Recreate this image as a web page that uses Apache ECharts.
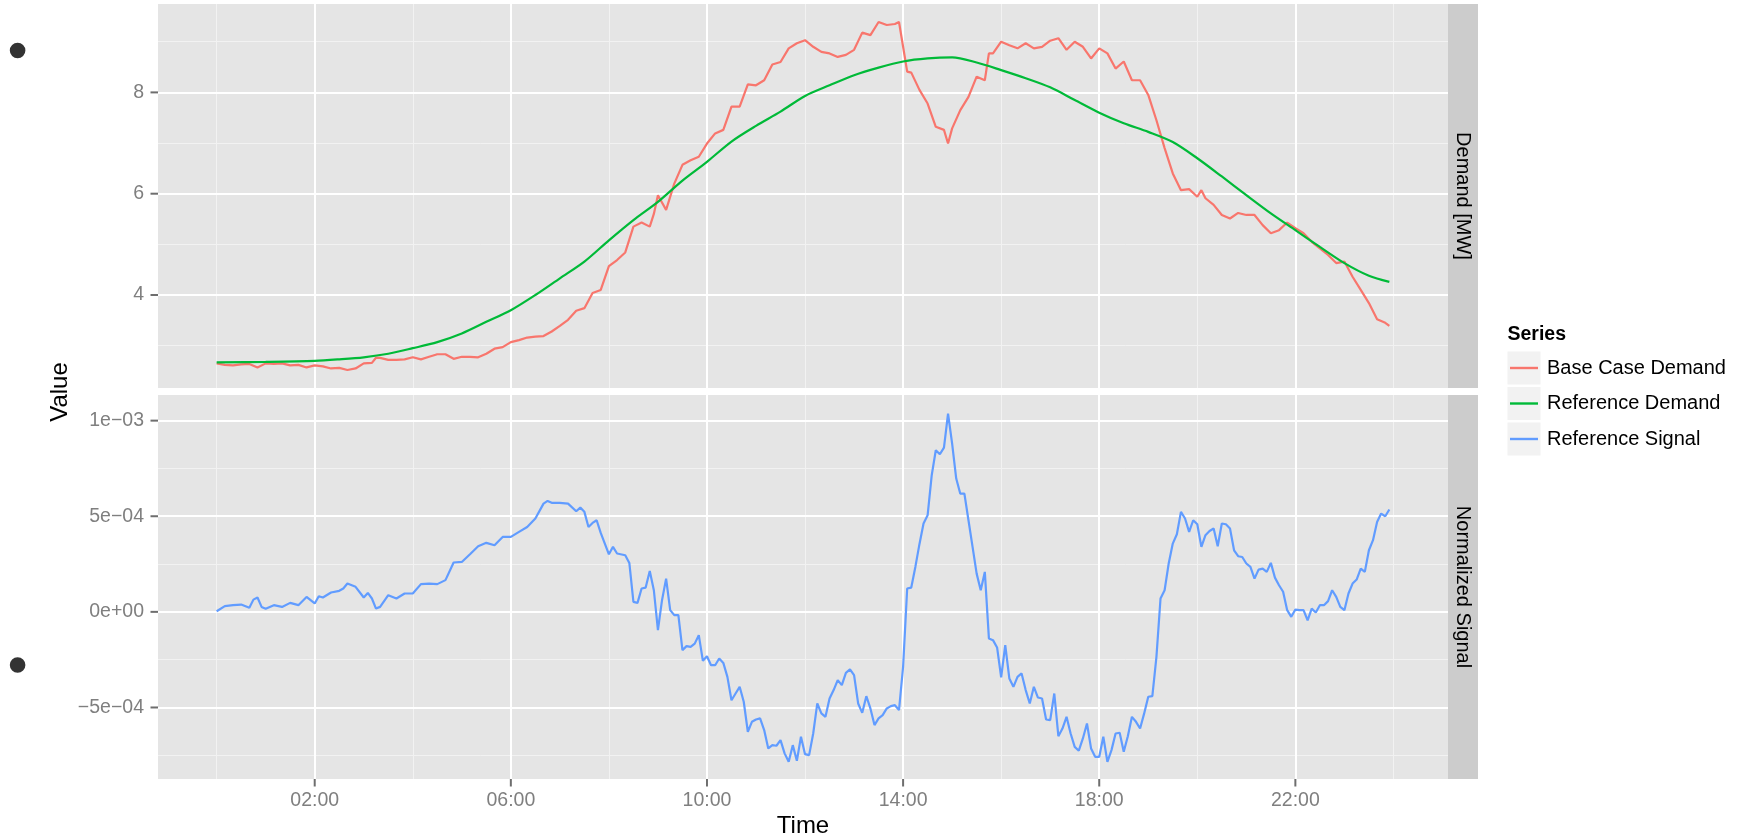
<!DOCTYPE html>
<html><head><meta charset="utf-8">
<script src="https://cdn.jsdelivr.net/npm/echarts@6/dist/echarts.min.js"></script>
<style>html,body{margin:0;padding:0;background:#fff}#chart{width:1748px;height:838px}</style>
</head><body><div id="chart"></div>
<script>
// ---------------- data ----------------
const seriesNames = ['Base Case Demand', 'Reference Demand', 'Reference Signal'];
const seriesColors = ['#F8766D', '#00BA38', '#619CFF'];
const panelLabels = ['Demand [MW]', 'Normalized Signal'];
const legendTitle = 'Series';
const xTitle = 'Time';
const yTitle = 'Value';

const timeTickValues = [2, 6, 10, 14, 18, 22];
const timeTickLabels = ['02:00', '06:00', '10:00', '14:00', '18:00', '22:00'];
const timeMinorValues = [0, 4, 8, 12, 16, 20, 24];
const demandTickValues = [4, 6, 8];
const demandTickLabels = ['4', '6', '8'];
const demandMinorValues = [3, 5, 7, 9];
const signalTickValues = [-5e-4, 0, 5e-4, 1e-3];
const signalTickLabels = ['\u22125e\u221204', '0e+00', '5e\u221204', '1e\u221203'];
const signalMinorValues = [-7.5e-4, -2.5e-4, 2.5e-4, 7.5e-4];

const baseDemandTimes = ['00:00','00:10','00:20','00:30','00:40','00:50','01:00','01:10','01:20','01:30','01:40','01:50',
'02:00','02:10','02:20','02:30','02:40','02:50','03:00','03:10','03:15','03:20','03:30','03:40','03:50',
'04:00','04:10','04:20','04:30','04:40','04:50','05:00','05:10','05:20','05:30','05:40','05:50',
'06:00','06:10','06:20','06:30','06:40','06:50','07:00','07:10','07:20','07:30','07:40','07:50',
'08:00','08:10','08:20','08:30','08:40','08:50','08:55','09:00','09:10','09:20','09:30','09:40','09:50',
'10:00','10:10','10:20','10:30','10:40','10:50','11:00','11:10','11:20','11:30','11:40','11:50',
'12:00','12:10','12:20','12:30','12:40','12:50','13:00','13:10','13:20','13:30','13:40','13:50','13:55',
'14:00','14:05','14:10','14:20','14:30','14:40','14:50','14:55','15:00','15:10','15:20','15:30','15:40','15:45','15:50',
'16:00','16:10','16:20','16:30','16:40','16:50','17:00','17:10','17:20','17:30','17:40','17:50',
'18:00','18:10','18:20','18:30','18:40','18:50','19:00','19:10','19:20','19:30','19:40','19:50',
'20:00','20:05','20:10','20:20','20:30','20:40','20:50','21:00','21:10','21:20','21:30','21:40','21:50',
'22:00','22:10','22:20','22:30','22:40','22:50','23:00','23:10','23:20','23:30','23:40','23:50','23:55'];
const baseDemand = [2.65,2.62,2.61,2.63,2.64,2.57,2.65,2.64,2.65,2.61,2.62,2.57,
2.61,2.59,2.55,2.56,2.52,2.55,2.65,2.66,2.76,2.76,2.72,2.72,2.73,
2.77,2.73,2.78,2.83,2.83,2.74,2.78,2.78,2.77,2.84,2.94,2.97,
3.07,3.11,3.16,3.18,3.19,3.28,3.39,3.51,3.69,3.74,4.04,4.10,
4.57,4.69,4.84,5.35,5.43,5.35,5.60,5.97,5.68,6.20,6.57,6.66,6.73,
6.99,7.19,7.26,7.72,7.72,8.16,8.14,8.24,8.55,8.60,8.87,8.97,
9.03,8.90,8.80,8.77,8.70,8.74,8.84,9.18,9.13,9.39,9.33,9.35,9.39,
8.90,8.41,8.39,8.05,7.78,7.32,7.26,6.99,7.29,7.65,7.91,8.31,8.24,8.77,8.77,
9.00,8.93,8.87,8.97,8.87,8.90,9.02,9.07,8.84,9.00,8.90,8.67,
8.87,8.77,8.47,8.61,8.24,8.24,7.95,7.45,6.90,6.40,6.07,6.09,
5.94,6.07,5.91,5.78,5.58,5.51,5.62,5.58,5.58,5.38,5.22,5.28,5.43,
5.32,5.22,5.05,4.92,4.79,4.63,4.66,4.36,4.10,3.84,3.52,3.45,3.39];

const refDemandTimes = ['00:00','01:00','02:00','02:30','03:00','03:30','04:00','04:30','05:00','05:30','06:00','06:30',
'07:00','07:30','08:00','08:30','09:00','09:30','10:00','10:30','11:00','11:30','12:00','12:30',
'13:00','13:30','14:00','14:30','15:00','15:30','16:00','16:30','17:00','17:30','18:00','18:30',
'19:00','19:30','20:00','20:30','21:00','21:30','22:00','22:30','23:00','23:30','23:55'];
const refDemand = [2.67,2.68,2.70,2.73,2.77,2.84,2.95,3.07,3.24,3.47,3.70,4.00,
4.33,4.66,5.08,5.48,5.84,6.26,6.63,7.03,7.34,7.62,7.93,8.14,
8.34,8.49,8.61,8.67,8.69,8.59,8.44,8.28,8.10,7.85,7.60,7.39,
7.22,7.02,6.70,6.34,5.97,5.61,5.28,4.95,4.63,4.38,4.26];

const signalTimes = ['00:00','00:10','00:20','00:30','00:40','00:45','00:50','00:55','01:00','01:10','01:20','01:30','01:40','01:50',
'02:00','02:05','02:10','02:20','02:30','02:35','02:40','02:50','03:00','03:05','03:10','03:15','03:20','03:30','03:40','03:50',
'04:00','04:10','04:20','04:30','04:40','04:50','05:00','05:10','05:20','05:30','05:40','05:50',
'06:00','06:10','06:20','06:30','06:40','06:45','06:50','07:00','07:10','07:20','07:25','07:30','07:35','07:40','07:45','07:50',
'08:00','08:05','08:10','08:20','08:25','08:30','08:35','08:40','08:45','08:50','08:55',
'09:00','09:05','09:10','09:15','09:20','09:25','09:30','09:35','09:40','09:45','09:50','09:55',
'10:00','10:05','10:10','10:15','10:20','10:25','10:30','10:35','10:40','10:45','10:50','10:55',
'11:00','11:05','11:10','11:15','11:20','11:25','11:30','11:35','11:40','11:45','11:50','11:55',
'12:00','12:05','12:10','12:15','12:20','12:25','12:30','12:35','12:40','12:45','12:50','12:55',
'13:00','13:05','13:10','13:15','13:20','13:25','13:30','13:35','13:40','13:45','13:50','13:55',
'14:00','14:05','14:10','14:15','14:20','14:25','14:30','14:35','14:40','14:45','14:50','14:55',
'15:00','15:05','15:10','15:15','15:20','15:25','15:30','15:35','15:40','15:45','15:50','15:55',
'16:00','16:05','16:10','16:15','16:20','16:25','16:30','16:35','16:40','16:45','16:50','16:55',
'17:00','17:05','17:10','17:15','17:20','17:25','17:30','17:35','17:40','17:45','17:50','17:55',
'18:00','18:05','18:10','18:15','18:20','18:25','18:30','18:35','18:40','18:45','18:50','18:55',
'19:00','19:05','19:10','19:15','19:20','19:25','19:30','19:35','19:40','19:45','19:50','19:55',
'20:00','20:05','20:10','20:15','20:20','20:25','20:30','20:35','20:40','20:45','20:50','20:55',
'21:00','21:05','21:10','21:15','21:20','21:25','21:30','21:35','21:40','21:45','21:50','21:55',
'22:00','22:05','22:10','22:15','22:20','22:25','22:30','22:35','22:40','22:45','22:50','22:55',
'23:00','23:05','23:10','23:15','23:20','23:25','23:30','23:35','23:40','23:45','23:50','23:55'];
const signal = [0.03e-4,0.30e-4,0.35e-4,0.38e-4,0.21e-4,0.64e-4,0.75e-4,0.26e-4,0.16e-4,0.35e-4,0.26e-4,0.47e-4,0.35e-4,0.78e-4,
0.44e-4,0.82e-4,0.75e-4,1.01e-4,1.10e-4,1.22e-4,1.48e-4,1.31e-4,0.75e-4,0.99e-4,0.70e-4,0.17e-4,0.26e-4,0.87e-4,0.70e-4,0.96e-4,
0.96e-4,1.45e-4,1.48e-4,1.45e-4,1.66e-4,2.58e-4,2.61e-4,3.01e-4,3.43e-4,3.61e-4,3.48e-4,3.92e-4,
3.92e-4,4.18e-4,4.44e-4,4.88e-4,5.66e-4,5.80e-4,5.70e-4,5.70e-4,5.66e-4,5.26e-4,5.45e-4,5.23e-4,4.44e-4,4.65e-4,4.79e-4,4.13e-4,
3.01e-4,3.40e-4,3.05e-4,2.96e-4,2.56e-4,0.52e-4,0.47e-4,1.22e-4,1.27e-4,2.14e-4,1.13e-4,
-0.96e-4,0.61e-4,1.74e-4,0.09e-4,-0.17e-4,-0.17e-4,-2.00e-4,-1.79e-4,-1.83e-4,-1.66e-4,-1.22e-4,-2.56e-4,
-2.32e-4,-2.79e-4,-2.79e-4,-2.44e-4,-2.67e-4,-3.40e-4,-4.62e-4,-4.27e-4,-3.92e-4,-4.70e-4,-6.27e-4,-5.75e-4,
-5.63e-4,-5.57e-4,-6.18e-4,-7.14e-4,-6.97e-4,-7.00e-4,-6.71e-4,-7.40e-4,-7.84e-4,-6.97e-4,-7.79e-4,-6.53e-4,
-7.44e-4,-7.49e-4,-6.36e-4,-4.79e-4,-5.31e-4,-5.49e-4,-4.53e-4,-4.09e-4,-3.57e-4,-3.83e-4,-3.19e-4,-3.01e-4,
-3.31e-4,-4.79e-4,-5.28e-4,-4.41e-4,-5.05e-4,-5.92e-4,-5.57e-4,-5.40e-4,-5.05e-4,-4.93e-4,-4.88e-4,-5.14e-4,
-2.87e-4,1.22e-4,1.27e-4,2.35e-4,3.54e-4,4.62e-4,5.05e-4,7.14e-4,8.45e-4,8.24e-4,8.59e-4,10.37e-4,
8.80e-4,6.97e-4,6.18e-4,6.18e-4,4.79e-4,3.40e-4,2.00e-4,1.13e-4,2.09e-4,-1.39e-4,-1.48e-4,-1.86e-4,
-3.43e-4,-1.74e-4,-3.48e-4,-3.92e-4,-3.40e-4,-3.22e-4,-4.09e-4,-4.79e-4,-3.92e-4,-4.48e-4,-4.53e-4,-5.63e-4,
-5.66e-4,-4.27e-4,-6.50e-4,-6.10e-4,-5.49e-4,-6.36e-4,-7.06e-4,-7.26e-4,-6.62e-4,-5.84e-4,-7.14e-4,-7.58e-4,
-7.58e-4,-6.53e-4,-7.84e-4,-7.23e-4,-6.36e-4,-6.32e-4,-7.32e-4,-6.50e-4,-5.49e-4,-5.75e-4,-6.10e-4,-5.31e-4,
-4.44e-4,-4.41e-4,-2.35e-4,0.70e-4,1.13e-4,2.53e-4,3.57e-4,4.06e-4,5.23e-4,4.88e-4,4.18e-4,4.79e-4,
4.58e-4,3.40e-4,4.01e-4,4.23e-4,4.36e-4,3.43e-4,4.62e-4,4.58e-4,4.36e-4,3.22e-4,2.91e-4,2.87e-4,
2.53e-4,2.35e-4,1.74e-4,2.21e-4,2.26e-4,2.09e-4,2.56e-4,1.79e-4,1.39e-4,1.05e-4,0.09e-4,-0.26e-4,
0.12e-4,0.09e-4,0.09e-4,-0.44e-4,0.17e-4,-0.03e-4,0.35e-4,0.35e-4,0.56e-4,1.13e-4,0.78e-4,0.26e-4,
0.09e-4,0.96e-4,1.48e-4,1.69e-4,2.26e-4,2.09e-4,3.22e-4,3.75e-4,4.70e-4,5.14e-4,5.00e-4,5.35e-4];

// ---------------- helpers ----------------
function toHours(s) { const p = s.split(':'); return Number(p[0]) + Number(p[1]) / 60; }
function pairs(times, vals) { return times.map((t, i) => [toHours(t), vals[i]]); }
function labelFor(values, labels) {
  return function (v) {
    let best = 0, bd = Infinity;
    values.forEach((x, i) => { const d = Math.abs(x - v); if (d < bd) { bd = d; best = i; } });
    return labels[best];
  };
}

const FONT = "'Liberation Sans', Arial, Helvetica, sans-serif";
const AXIS_GREY = '#7F7F7F';
const TICK_GREY = '#6E6E6E';
const PANEL_BG = '#E5E5E5';
const MAJOR = '#FFFFFF';
const MINOR = '#F2F2F2';
const TICK_LEN = 7.5;

const X_MIN = -1.196, X_MAX = 25.113;
const DEMAND_MIN = 2.164, DEMAND_MAX = 9.745;
const SIGNAL_MIN = -8.74e-4, SIGNAL_MAX = 1.134e-3;

const G = [
  { left: 158, top: 4, width: 1290, height: 384 },
  { left: 158, top: 395, width: 1290, height: 384 }
];

function gridAxis(kind, gridIndex, min, max, values, isMajor, labels) {
  const ax = {
    type: 'value', gridIndex: gridIndex, min: min, max: max,
    position: kind === 'x' ? 'bottom' : 'left',
    axisLine: { show: false, onZero: false },
    axisTick: { show: false, customValues: values },
    axisLabel: { show: false, customValues: values },
    splitLine: { show: true, lineStyle: { color: isMajor ? MAJOR : MINOR, width: isMajor ? 2 : 1 } },
    z: isMajor ? 1 : 0
  };
  if (labels) {
    ax.axisLabel = { show: true, customValues: values, formatter: labelFor(values, labels),
      color: AXIS_GREY, fontSize: 19.5, fontFamily: FONT, margin: kind === 'x' ? 12 : 14 };
    ax.z = 3;
  }
  return ax;
}

const baseGraphics = [
  { type: 'rect', shape: { x: 1448, y: 4, width: 30, height: 384 }, style: { fill: '#CCCCCC' }, z: 1 },
  { type: 'rect', shape: { x: 1448, y: 395, width: 30, height: 384 }, style: { fill: '#CCCCCC' }, z: 1 },
  { type: 'text', x: 1463, y: 196, rotation: -Math.PI / 2, z: 2,
    style: { text: panelLabels[0], fontSize: 20, fontFamily: FONT, fill: '#000', align: 'center', verticalAlign: 'middle' } },
  { type: 'text', x: 1463, y: 587, rotation: -Math.PI / 2, z: 2,
    style: { text: panelLabels[1], fontSize: 20, fontFamily: FONT, fill: '#000', align: 'center', verticalAlign: 'middle' } },
  { type: 'text', x: 60.5, y: 392, rotation: Math.PI / 2, z: 2,
    style: { text: yTitle, fontSize: 24, fontFamily: FONT, fill: '#000', align: 'center', verticalAlign: 'middle' } },
  { type: 'text', x: 803, y: 826, z: 2,
    style: { text: xTitle, fontSize: 24, fontFamily: FONT, fill: '#000', align: 'center', verticalAlign: 'middle' } },
  { type: 'text', x: 1507.5, y: 334.5, z: 2,
    style: { text: legendTitle, fontSize: 19.5, fontWeight: 'bold', fontFamily: FONT, fill: '#000', align: 'left', verticalAlign: 'middle' } },
  { type: 'rect', shape: { x: 1507.5, y: 351.5, width: 33, height: 33 }, style: { fill: '#F2F2F2' }, z: 1 },
  { type: 'rect', shape: { x: 1507.5, y: 387, width: 33, height: 33 }, style: { fill: '#F2F2F2' }, z: 1 },
  { type: 'rect', shape: { x: 1507.5, y: 422.5, width: 33, height: 33 }, style: { fill: '#F2F2F2' }, z: 1 },
  { type: 'circle', shape: { cx: 17.6, cy: 50.5, r: 7.8 }, style: { fill: '#333333' }, z: 2 },
  { type: 'circle', shape: { cx: 17.6, cy: 665, r: 7.8 }, style: { fill: '#333333' }, z: 2 }
];

const chart = echarts.init(document.getElementById('chart'), null, { renderer: 'canvas' });

const option = {
  animation: false,
  backgroundColor: '#FFFFFF',
  textStyle: { fontFamily: FONT },
  grid: G.map(g => Object.assign({ show: true, backgroundColor: PANEL_BG, borderWidth: 0, containLabel: false }, g)),
  xAxis: [
    gridAxis('x', 0, X_MIN, X_MAX, timeTickValues, true, null),
    gridAxis('x', 0, X_MIN, X_MAX, timeMinorValues, false, null),
    gridAxis('x', 1, X_MIN, X_MAX, timeTickValues, true, timeTickLabels),
    gridAxis('x', 1, X_MIN, X_MAX, timeMinorValues, false, null)
  ],
  yAxis: [
    gridAxis('y', 0, DEMAND_MIN, DEMAND_MAX, demandTickValues, true, demandTickLabels),
    gridAxis('y', 0, DEMAND_MIN, DEMAND_MAX, demandMinorValues, false, null),
    gridAxis('y', 1, SIGNAL_MIN, SIGNAL_MAX, signalTickValues, true, signalTickLabels),
    gridAxis('y', 1, SIGNAL_MIN, SIGNAL_MAX, signalMinorValues, false, null)
  ],
  legend: {
    show: true, orient: 'vertical', left: 1510, top: 351.5, padding: 0,
    itemWidth: 28, itemHeight: 2.4, itemGap: 2.5, selectedMode: false, z: 10,
    textStyle: { fontSize: 20, color: '#000', fontFamily: FONT, lineHeight: 33, padding: [0, 0, 0, 4] },
    data: seriesNames.map((n, i) => ({ name: n, icon: 'rect', itemStyle: { color: seriesColors[i] } }))
  },
  series: [
    { name: seriesNames[0], type: 'line', xAxisIndex: 0, yAxisIndex: 0, data: pairs(baseDemandTimes, baseDemand),
      showSymbol: false, symbol: 'none', color: seriesColors[0], lineStyle: { color: seriesColors[0], width: 2.2 }, z: 5 },
    { name: seriesNames[1], type: 'line', xAxisIndex: 0, yAxisIndex: 0, data: pairs(refDemandTimes, refDemand),
      showSymbol: false, symbol: 'none', smooth: 0.3, color: seriesColors[1], lineStyle: { color: seriesColors[1], width: 2.2 }, z: 5 },
    { name: seriesNames[2], type: 'line', xAxisIndex: 2, yAxisIndex: 2, data: pairs(signalTimes, signal),
      showSymbol: false, symbol: 'none', color: seriesColors[2], lineStyle: { color: seriesColors[2], width: 2.2 }, z: 5 }
  ],
  graphic: baseGraphics
};
chart.setOption(option);

// tick marks outside the panels, positioned through the chart's own axis scales
const tickGraphics = [];
function addTicks(gridIndex, kind, values, otherMin) {
  values.forEach(v => {
    const p = chart.convertToPixel({ gridIndex: gridIndex }, kind === 'x' ? [v, otherMin] : [otherMin, v]);
    if (!p) return;
    const shape = kind === 'x'
      ? { x1: p[0], y1: p[1], x2: p[0], y2: p[1] + TICK_LEN }
      : { x1: p[0] - TICK_LEN, y1: p[1], x2: p[0], y2: p[1] };
    tickGraphics.push({ type: 'line', shape: shape, style: { stroke: TICK_GREY, lineWidth: 2 }, z: 20, silent: true });
  });
}
addTicks(0, 'y', demandTickValues, X_MIN);
addTicks(1, 'y', signalTickValues, X_MIN);
addTicks(1, 'x', timeTickValues, SIGNAL_MIN);
chart.setOption({ graphic: baseGraphics.concat(tickGraphics) });
</script>
</body></html>
